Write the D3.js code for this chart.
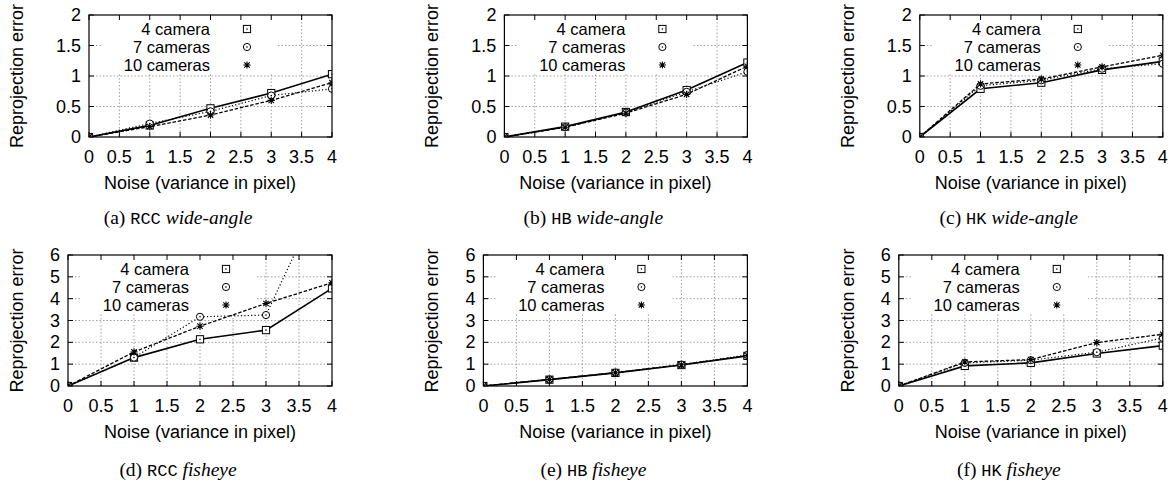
<!DOCTYPE html>
<html>
<head>
<meta charset="utf-8">
<script src="https://cdn.jsdelivr.net/npm/d3@7"></script>
<style>
  body { margin: 0; background: #fff; }
  svg { display: block; }
  .tick-lab, .axis-lab, .key-lab { font-family: "Liberation Sans", Arial, sans-serif; font-size: 18px; fill: #000; }
  .key-lab { font-size: 16.5px; }
  .cap { font-family: "Liberation Serif", "Times New Roman", serif; font-size: 19.5px; fill: #000; }
  .cap .tt { font-family: "Liberation Mono", "Courier New", monospace; font-size: 17px; }
  .cap .it { font-style: italic; }
</style>
</head>
<body>
<svg id="fig" width="1171" height="485"></svg>
<script>
// ---- données ----
let noise = [0, 1, 2, 3, 4];
let seriesNames = ["4 camera", "7 cameras", "10 cameras"];
let xTicks = [0, 0.5, 1, 1.5, 2, 2.5, 3, 3.5, 4];
let yTicksWide = [0, 0.5, 1, 1.5, 2];
let yTicksFish = [0, 1, 2, 3, 4, 5, 6];
let methods = ["RCC", "HB", "HK"];
let lenses = ["wide-angle", "fisheye"];
let letters = ["a", "b", "c", "d", "e", "f"];

// une ligne par série : 4, 7, 10 caméras
let rccWide = [[0, 0.19, 0.47, 0.72, 1.03], [0, 0.22, 0.42, 0.68, 0.79], [0, 0.17, 0.36, 0.60, 0.89]];
let hbWide  = [[0, 0.17, 0.41, 0.77, 1.22], [0, 0.16, 0.40, 0.74, 1.07], [0, 0.16, 0.39, 0.70, 1.16]];
let hkWide  = [[0, 0.79, 0.89, 1.10, 1.24], [0, 0.84, 0.93, 1.12, 1.20], [0, 0.87, 0.95, 1.15, 1.34]];
let rccFish = [[0, 1.30, 2.14, 2.56, 4.47], [0, 1.30, 3.17, 3.25, 9.7], [0, 1.56, 2.74, 3.78, 4.73]];
let hbFish  = [[0, 0.29, 0.60, 0.96, 1.38], [0, 0.30, 0.62, 0.98, 1.42], [0, 0.30, 0.61, 0.97, 1.40]];
let hkFish  = [[0, 0.92, 1.06, 1.49, 1.85], [0, 1.06, 1.18, 1.55, 2.20], [0, 1.10, 1.21, 1.99, 2.37]];

let panelData = [rccWide, hbWide, hkWide, rccFish, hbFish, hkFish];

// styles des séries (trait plein, pointillé, tirets)
let DASH = [null, "1.2,2.2", "3.5,1.8"];
let WIDTH = [1.6, 1.2, 1.3];

let svg = d3.select("#fig");
let colStep = 415.4;

// ---- un panneau ----
function drawPanel(idx){
  let row = Math.floor(idx / 3), col = idx % 3;
  let ox = col * colStep;
  let left = (row === 0 ? 89 : 68) + ox;
  let right = 332 + ox;
  let top = row === 0 ? 15 : 255;
  let bottom = row === 0 ? 137 : 386;
  let yTicks = row === 0 ? yTicksWide : yTicksFish;

  let x = d3.scaleLinear().domain([0, 4]).range([left, right]);
  let y = d3.scaleLinear().domain([0, yTicks[yTicks.length - 1]]).range([bottom, top]);

  let g = svg.append("g");
  let clipId = "clip" + idx;
  g.append("clipPath").attr("id", clipId)
    .append("rect").attr("x", left).attr("y", top).attr("width", right - left).attr("height", bottom - top);

  // grille pointillée
  g.selectAll("line.gx").data(xTicks.slice(1, -1)).join("line")
    .attr("x1", d => x(d)).attr("x2", d => x(d)).attr("y1", top).attr("y2", bottom)
    .attr("stroke", "#888").attr("stroke-width", 0.8).attr("stroke-dasharray", "1.5,2");
  g.selectAll("line.gy").data(yTicks.slice(1, -1)).join("line")
    .attr("y1", d => y(d)).attr("y2", d => y(d)).attr("x1", left).attr("x2", right)
    .attr("stroke", "#888").attr("stroke-width", 0.8).attr("stroke-dasharray", "1.5,2");

  // fond opaque de la légende
  g.append("rect").attr("x", left + 13).attr("y", top + 1).attr("width", 176).attr("height", 57).attr("fill", "#fff");

  // graduations internes (miroir haut/droite)
  let tl = 5;
  xTicks.forEach(t => {
    g.append("line").attr("x1", x(t)).attr("x2", x(t)).attr("y1", bottom).attr("y2", bottom - tl).attr("stroke", "#000");
    g.append("line").attr("x1", x(t)).attr("x2", x(t)).attr("y1", top).attr("y2", top + tl).attr("stroke", "#000");
  });
  yTicks.forEach(t => {
    g.append("line").attr("y1", y(t)).attr("y2", y(t)).attr("x1", left).attr("x2", left + tl).attr("stroke", "#000");
    g.append("line").attr("y1", y(t)).attr("y2", y(t)).attr("x1", right).attr("x2", right - tl).attr("stroke", "#000");
  });

  // légende
  seriesNames.forEach((name, i) => {
    let cy = top + 14 + i * 18;
    g.append("text").attr("class", "key-lab").attr("x", left + 121).attr("y", cy + 6)
      .attr("text-anchor", "end").text(name);
    drawMarker(g, i, left + 158, cy);
  });

  // courbes
  let line = d3.line().x((d, j) => x(noise[j])).y(d => y(d));
  let plot = g.append("g").attr("clip-path", `url(#${clipId})`);
  panelData[idx].forEach((vals, i) => {
    plot.append("path").attr("d", line(vals)).attr("fill", "none")
      .attr("stroke", "#000").attr("stroke-width", WIDTH[i])
      .attr("stroke-dasharray", DASH[i]);
  });
  panelData[idx].forEach((vals, i) => {
    vals.forEach((v, j) => {
      if (y(v) >= top) drawMarker(plot, i, x(noise[j]), y(v));
    });
  });

  // cadre
  g.append("rect").attr("x", left).attr("y", top).attr("width", right - left).attr("height", bottom - top)
    .attr("fill", "none").attr("stroke", "#000").attr("stroke-width", 1.2);

  // étiquettes des axes
  g.selectAll("text.xt").data(xTicks).join("text")
    .attr("class", "tick-lab").attr("x", d => x(d)).attr("y", bottom + 26)
    .attr("text-anchor", "middle").text(d => d);
  g.selectAll("text.yt").data(yTicks).join("text")
    .attr("class", "tick-lab").attr("x", left - 8).attr("y", d => y(d) + 6)
    .attr("text-anchor", "end").text(d => d);

  g.append("text").attr("class", "axis-lab").attr("x", 200 + ox).attr("y", bottom + 52)
    .attr("text-anchor", "middle").text("Noise (variance in pixel)");
  let ymid = (top + bottom) / 2;
  g.append("text").attr("class", "axis-lab")
    .attr("transform", `translate(${23 + ox},${ymid}) rotate(-90)`)
    .attr("text-anchor", "middle").text("Reprojection error");

  // légende de sous-figure
  let cap = g.append("text").attr("class", "cap").attr("x", 178 + ox).attr("y", row === 0 ? 224 : 476)
    .attr("text-anchor", "middle");
  cap.append("tspan").text(`(${letters[idx]}) `);
  cap.append("tspan").attr("class", "tt").text(methods[col]);
  cap.append("tspan").text(" ");
  cap.append("tspan").attr("class", "it").text(lenses[row]);
}

// marqueurs façon gnuplot : carré pointé, cercle pointé, étoile
function drawMarker(g, kind, cx, cy){
  let s = 3.6;
  if (kind === 0){
    g.append("rect").attr("x", cx - s).attr("y", cy - s).attr("width", 2 * s).attr("height", 2 * s)
      .attr("fill", "#fff").attr("stroke", "#000").attr("stroke-width", 1);
    g.append("circle").attr("cx", cx).attr("cy", cy).attr("r", 0.8).attr("fill", "#000");
  } else if (kind === 1){
    g.append("circle").attr("cx", cx).attr("cy", cy).attr("r", s).attr("fill", "#fff")
      .attr("stroke", "#000").attr("stroke-width", 1);
    g.append("circle").attr("cx", cx).attr("cy", cy).attr("r", 0.8).attr("fill", "#000");
  } else {
    let p = `M${cx - s},${cy}L${cx + s},${cy}M${cx},${cy - s}L${cx},${cy + s}` +
      `M${cx - s * 0.75},${cy - s * 0.75}L${cx + s * 0.75},${cy + s * 0.75}` +
      `M${cx - s * 0.75},${cy + s * 0.75}L${cx + s * 0.75},${cy - s * 0.75}`;
    g.append("path").attr("d", p).attr("stroke", "#000").attr("stroke-width", 1.1).attr("fill", "none");
  }
}

for (let i = 0; i < 6; i++) drawPanel(i);
</script>
</body>
</html>
